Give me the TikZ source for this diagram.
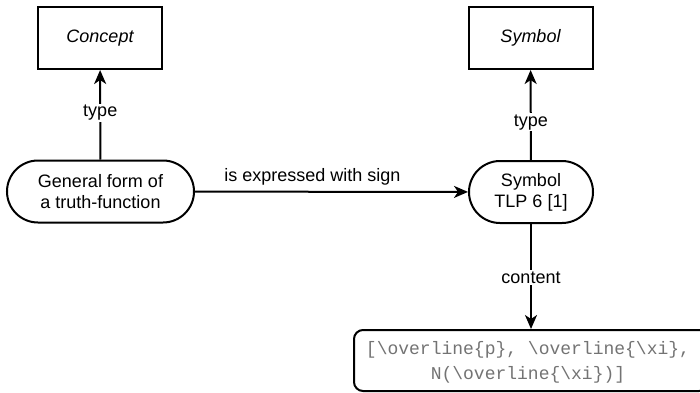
\documentclass[tikz,border=0pt]{standalone}
\usepackage{fontspec}
\setmainfont{Liberation Sans}
\setmonofont{Liberation Mono}
\usetikzlibrary{shapes.misc,arrows.meta}

\tikzset{
  every node/.style={font=\fontsize{18}{21}\selectfont},
  conceptbox/.style={draw, line width=2pt, minimum width=124pt, minimum height=62pt, inner sep=0pt, font=\fontsize{18}{21}\selectfont\itshape},
  pill/.style={draw, line width=2pt, rounded rectangle, minimum height=62pt, inner sep=0pt, align=center},
  codebox/.style={draw, line width=2pt, rounded corners=9pt, minimum width=354pt, minimum height=61pt, inner sep=0pt},
  rel/.style={line width=2pt, -{Stealth[length=14pt, width=12pt, inset=4pt]}},
  rellabel/.style={fill=white, inner sep=1.5pt},
}

\begin{document}
\begin{tikzpicture}[x=1pt, y=-1pt]
  \useasboundingbox (0,0) rectangle (700,392);
  \clip (0,0) rectangle (700,392);

  % upper type boxes
  \node[conceptbox] (concept) at (100,38) {Concept};
  \node[conceptbox] (symbolT) at (530.5,38) {Symbol};

  % instances
  \node[pill, minimum width=187pt] (gf) at (100.5,191.5) {General form of\\a truth-function};
  \node[pill, minimum width=124pt] (sym) at (531,192) {Symbol\\TLP 6 [1]};

  % content of the symbol
  \node[codebox] (code) at (531,360.5) {};
  \node[font=\fontsize{18}{25}\selectfont\ttfamily, text=black!55, align=center, inner sep=0pt] (codetext) at (528,362)
    {[\textbackslash overline\{p\}, \textbackslash overline\{\textbackslash xi\},\\N(\textbackslash overline\{\textbackslash xi\})]};

  % relations
  \draw[rel] (gf) -- node[rellabel, pos=0.52] {type} (concept);
  \draw[rel] (sym) -- node[rellabel, pos=0.42] {type} (symbolT);
  \draw[rel] (gf) -- node[pos=0.43, yshift=15pt] {is expressed with sign} (sym);
  \draw[rel] (sym) -- node[rellabel, pos=0.51] {content} (code);
\end{tikzpicture}
\end{document}
